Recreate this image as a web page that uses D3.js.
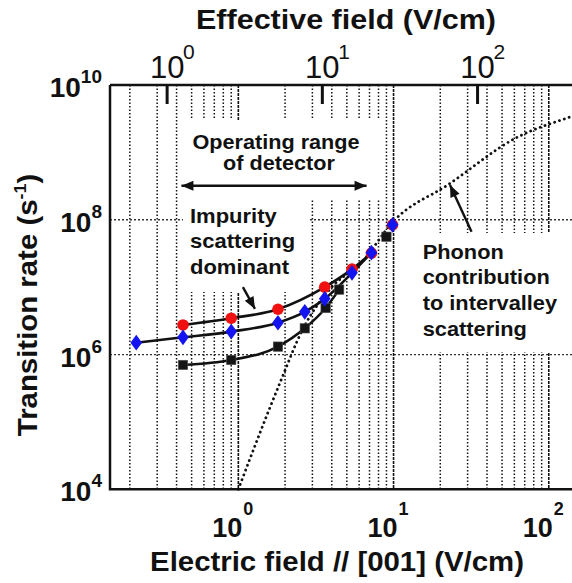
<!DOCTYPE html>
<html><head><meta charset="utf-8">
<script src="https://cdn.jsdelivr.net/npm/d3@7"></script>
<style>
body{margin:0;background:#fff}
svg{display:block}
text{font-family:"Liberation Sans",Arial,Helvetica,sans-serif;fill:#111}
</style>
</head><body>
<svg id="c" width="572" height="583"></svg>
<script>
// ---------- data ----------
const redField  = [0.44, 0.9, 1.8, 3.6, 5.4, 7.2, 9.85];
const redRate   = [2.75e6, 3.46e6, 4.7e6, 1.0e7, 1.85e7, 3.2e7, 8.4e7];
const blueField = [0.22, 0.44, 0.9, 1.8, 2.68, 3.6, 5.4, 7.2, 9.85];
const blueRate  = [1.5e6, 1.8e6, 2.19e6, 2.97e6, 4.3e6, 6.7e6, 1.63e7, 3.25e7, 8.4e7];
const blackField= [0.44, 0.9, 1.8, 2.68, 3.65, 4.46, 9.0];
const blackRate = [7.0e5, 8.3e5, 1.31e6, 2.45e6, 4.9e6, 9.2e6, 5.6e7];
// how many leading points of each series are joined by the solid fitted line
const redLineCount = 6, blueLineCount = 8, blackLineCount = 6;
// phonon contribution (dotted curve)
const phononField = [1.0, 1.85, 2.62, 4.0, 6.26, 9.94, 22.4, 63, 137, 200];
const phononRate  = [1.0e4, 3.75e5, 2.45e6, 1.0e7, 2.37e7, 9.4e7, 3.3e8, 1.69e9, 3.35e9, 4.5e9];
// axes
const bottomTickValues = [1, 10, 100];
const bottomTickExp = ["0", "1", "2"];
const topTickValues = [1, 10, 100];
const topTickExp = ["0", "1", "2"];
const yTickValues = [1e4, 1e6, 1e8, 1e10];
const yTickExp = ["4", "6", "8", "10"];
const yGridValues = [1e6, 1e8];
const effectiveFactor = 2.876;  // effective field / electric field
// annotations (data coordinates)
const operatingRange = [0.43, 6.7], operatingRate = 3.2e8;
const impurityArrow = {from: [1.07, 1.0e7], to: [1.28, 4.75e6]};
const phononArrow = {from: [31.8, 6.66e7], to: [23.1, 3.28e8]};

// ---------- scales ----------
const W = 572, H = 583;
const X0 = 110, X1 = 595.5, Y0 = 85, Y1 = 489.3;
const svg = d3.select('#c');
const x = d3.scaleLog().domain([0.149, 200]).range([X0, X1]);
const xTop = d3.scaleLog().domain([0.149 * effectiveFactor, 200 * effectiveFactor]).range([X0, X1]);
const y = d3.scaleLog().domain([1e4, 1e10]).range([Y1, Y0]);

// ---------- grid ----------
const gridVals = x.ticks().filter(v => v > 0.149 && v <= 200);
const isDecade = v => Math.abs(Math.log10(v) - Math.round(Math.log10(v))) < 1e-9;
svg.append('g').selectAll('line').data(gridVals).join('line')
  .attr('x1', d => x(d)).attr('x2', d => x(d)).attr('y1', Y0).attr('y2', Y1)
  .attr('stroke', '#111').attr('stroke-width', d => isDecade(d) ? 1.6 : 1.5)
  .attr('stroke-dasharray', d => isDecade(d) ? '3 1' : '1.5 2');
svg.append('g').selectAll('line').data(yGridValues).join('line')
  .attr('x1', X0).attr('x2', W).attr('y1', d => y(d)).attr('y2', d => y(d))
  .attr('stroke', '#333').attr('stroke-width', 1.3).attr('stroke-dasharray', '2 2');

// white annotation backgrounds
const boxes = [[183, 120, 199, 80], [183, 200, 127, 92], [413, 233, 190, 119]];
svg.append('g').selectAll('rect').data(boxes).join('rect')
  .attr('x', d => d[0]).attr('y', d => d[1]).attr('width', d => d[2]).attr('height', d => d[3])
  .attr('fill', '#fff');

// ---------- frame ----------
svg.append('path').attr('d', `M${X0},${Y0}H${W}M${X0},${Y0}V${Y1}H${W}`)
  .attr('fill', 'none').attr('stroke', '#111').attr('stroke-width', 2.5);
// top axis thick ticks
svg.append('g').selectAll('line').data(topTickValues).join('line')
  .attr('x1', d => xTop(d)).attr('x2', d => xTop(d)).attr('y1', Y0).attr('y2', Y0 + 19)
  .attr('stroke', '#111').attr('stroke-width', 3);

// ---------- phonon dotted curve ----------
const ph = phononField.map((f, i) => [x(f), y(phononRate[i])]);
svg.append('path').attr('d', d3.line().curve(d3.curveMonotoneX)(ph))
  .attr('fill', 'none').attr('stroke', '#111').attr('stroke-width', 2.8)
  .attr('stroke-linecap', 'round').attr('stroke-dasharray', '0.1 5');

// ---------- series lines ----------
const lineGen = d3.line().curve(d3.curveMonotoneX);
function seriesLine(fields, rates, n) {
  const pts = fields.slice(0, n).map((f, i) => [x(f), y(rates[i])]);
  svg.append('path').attr('d', lineGen(pts)).attr('fill', 'none')
    .attr('stroke', '#111').attr('stroke-width', 2.6);
}
seriesLine(blackField, blackRate, blackLineCount);
seriesLine(redField, redRate, redLineCount);
seriesLine(blueField, blueRate, blueLineCount);

// ---------- markers ----------
svg.append('g').selectAll('rect').data(blackField.map((f, i) => [f, blackRate[i]])).join('rect')
  .attr('x', d => x(d[0]) - 4.7).attr('y', d => y(d[1]) - 4.7).attr('width', 9.4).attr('height', 9.4)
  .attr('fill', '#151515').attr('stroke', '#555').attr('stroke-width', 0.6);
svg.append('g').selectAll('circle').data(redField.map((f, i) => [f, redRate[i]])).join('circle')
  .attr('cx', d => x(d[0])).attr('cy', d => y(d[1])).attr('r', 5.8).attr('fill', '#f01010');
svg.append('g').selectAll('path').data(blueField.map((f, i) => [f, blueRate[i]])).join('path')
  .attr('transform', d => `translate(${x(d[0])},${y(d[1])})`)
  .attr('d', 'M0,-7.8L5.8,0L0,7.8L-5.8,0Z').attr('fill', '#1414f0');

// ---------- text helper ----------
function label(px, py, str, o = {}) {
  const t = svg.append('text')
    .attr('transform', `translate(${px},${py}) rotate(${o.rotate || 0}) scale(${o.sx || 1},1)`)
    .attr('text-anchor', o.anchor || 'start')
    .attr('font-size', o.size || 20)
    .attr('font-weight', o.weight || 'bold');
  if (o.sup !== undefined) {
    t.append('tspan').text(str);
    t.append('tspan').attr('font-size', o.supSize).attr('dy', o.supDy).text(o.sup);
    if (o.after) t.append('tspan').attr('font-size', o.size).attr('dy', -o.supDy).text(o.after);
  } else t.text(str);
  return t;
}

// y tick labels
yTickValues.forEach((v, i) => label(102, y(v) + 12, '10', {anchor: 'end', size: 28, sup: yTickExp[i], supSize: 19, supDy: -14}));
// bottom tick labels
bottomTickValues.forEach((v, i) => {
  label(x(v) + 4, 537, '10', {anchor: 'end', size: 27});
  label(x(v) + 5, 515, bottomTickExp[i], {size: 18});
});
// top tick labels
topTickValues.forEach((v, i) => {
  label(xTop(v), 78, '10', {anchor: 'middle', size: 31, weight: 'normal'});
  label(xTop(v) + 16, 59, topTickExp[i], {size: 21, weight: 'normal'});
});

// titles
label(346, 29, 'Effective field (V/cm)', {anchor: 'middle', size: 28, sx: 1.09});
label(337, 571, 'Electric field // [001] (V/cm)', {anchor: 'middle', size: 28, sx: 1.05});
label(37, 305, 'Transition rate (s', {anchor: 'middle', size: 28, sx: 1.05, rotate: -90, sup: '-1', supSize: 17, supDy: -11, after: ')'});

// annotations
label(276, 149, 'Operating range', {anchor: 'middle', size: 19.5, sx: 1.11});
label(279, 170, 'of detector', {anchor: 'middle', size: 19.5, sx: 1.11});
[['Impurity', 223.3], ['scattering', 248.3], ['dominant', 273.5]].forEach(d => label(190, d[1], d[0], {size: 20, sx: 1.1}));
[['Phonon', 259.3], ['contribution', 284], ['to intervalley', 310], ['scattering', 336]].forEach(d => label(422.7, d[1], d[0], {size: 20, sx: 1.09}));

// arrows
function arrowHead(tx, ty, fx, fy, len = 12, half = 5) {
  const a = Math.atan2(ty - fy, tx - fx);
  const bx = tx - len * Math.cos(a), by = ty - len * Math.sin(a);
  const px = -Math.sin(a) * half, py = Math.cos(a) * half;
  svg.append('path').attr('d', `M${tx},${ty}L${bx + px},${by + py}L${bx - px},${by - py}Z`).attr('fill', '#111');
}
function arrow(from, to, both) {
  const fx = x(from[0]), fy = y(from[1]), tx = x(to[0]), ty = y(to[1]);
  svg.append('line').attr('x1', fx).attr('y1', fy).attr('x2', tx).attr('y2', ty)
    .attr('stroke', '#111').attr('stroke-width', 2.4);
  arrowHead(tx, ty, fx, fy);
  if (both) arrowHead(fx, fy, tx, ty);
}
arrow([operatingRange[0], operatingRate], [operatingRange[1], operatingRate], true);
arrow(impurityArrow.from, impurityArrow.to);
arrow(phononArrow.from, phononArrow.to);
</script>
</body></html>
